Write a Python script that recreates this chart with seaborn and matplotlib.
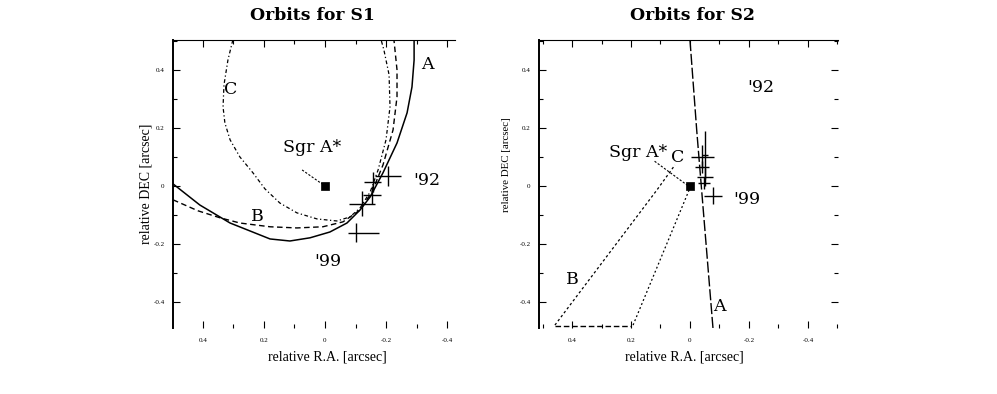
import seaborn as sns
import matplotlib.pyplot as plt
from matplotlib.ticker import MultipleLocator

# ---- S1 orbit curves (R.A., DEC in arcsec) ----
s1_a_x = [0.498, 0.41, 0.311, 0.180, 0.115, 0.049, -0.016, -0.072, -0.115, -0.148, -0.190, -0.236, -0.269, -0.285, -0.292, -0.292]
s1_a_y = [0.007, -0.066, -0.128, -0.183, -0.190, -0.179, -0.159, -0.128, -0.083, -0.038, 0.045, 0.148, 0.252, 0.341, 0.434, 0.503]

s1_b_x = [0.498, 0.416, 0.344, 0.279, 0.180, 0.092, 0.007, -0.059, -0.115, -0.154, -0.190, -0.223, -0.236, -0.236, -0.226]
s1_b_y = [-0.048, -0.086, -0.110, -0.128, -0.141, -0.145, -0.141, -0.124, -0.083, -0.021, 0.072, 0.193, 0.307, 0.400, 0.503]

s1_c_x = [0.302, 0.318, 0.331, 0.334, 0.328, 0.311, 0.279, 0.236, 0.197, 0.148, 0.092, 0.026, -0.039, -0.082, -0.115, -0.148, -0.174, -0.200, -0.213, -0.210, -0.193, -0.184]
s1_c_y = [0.503, 0.434, 0.348, 0.272, 0.217, 0.159, 0.100, 0.045, -0.010, -0.059, -0.093, -0.114, -0.121, -0.107, -0.076, -0.021, 0.055, 0.159, 0.272, 0.383, 0.469, 0.503]

# S1 measured positions with errors
s1_pos_x = [-0.207, -0.157, -0.121, -0.154, -0.102]
s1_pos_y = [0.034, 0.014, -0.062, -0.031, -0.162]
s1_xerr_lo = [0.043, 0.028, 0.043, 0.030, 0.075]
s1_xerr_hi = [0.043, 0.028, 0.043, 0.030, 0.025]
s1_yerr = [0.035, 0.035, 0.043, 0.030, 0.033]

# ---- S2 orbit curves ----
s2_a_x = [0.0, -0.023, -0.078]
s2_a_y = [0.503, 0.19, -0.49]
s2_b_x = [0.458, 0.112, 0.051]
s2_b_y = [-0.48, -0.014, 0.072]
s2_base_x = [0.458, 0.200]
s2_base_y = [-0.482, -0.482]
s2_c_x = [0.193, 0.0]
s2_c_y = [-0.48, -0.007]

# S2 measured positions with errors
s2_pos_x = [-0.041, -0.051, -0.041, -0.051, -0.047, -0.078]
s2_pos_y = [0.100, 0.107, 0.066, 0.031, 0.010, -0.034]
s2_xerr = [0.039, 0.010, 0.025, 0.027, 0.020, 0.030]
s2_yerr = [0.040, 0.083, 0.020, 0.030, 0.020, 0.030]

ticks = [0.4, 0.2, 0.0, -0.2, -0.4]
tick_labels = ['0.4', '0.2', '0', '-0.2', '-0.4']

sns.set_style('white')
plt.rcParams['font.family'] = ['Liberation Serif', 'DejaVu Serif']
plt.rcParams['text.color'] = 'k'
plt.rcParams['xtick.color'] = 'k'
plt.rcParams['ytick.color'] = 'k'

fig = plt.figure(figsize=(9.97, 3.94), dpi=100)
ax1 = fig.add_axes([173 / 997, 66 / 394, 282 / 997, 288 / 394])
ax2 = fig.add_axes([539 / 997, 66 / 394, 299 / 997, 288 / 394])

lab = dict(fontsize=12.5, ha='center', va='center', family='DejaVu Serif')


def style_axis(ax, xlim, right_ticks):
    ax.set_xlim(*xlim)
    ax.set_ylim(-0.49, 0.503)
    ax.set_xticks(ticks)
    ax.set_xticklabels(tick_labels)
    ax.set_yticks(ticks)
    ax.set_yticklabels(tick_labels)
    ax.xaxis.set_minor_locator(MultipleLocator(0.1))
    ax.yaxis.set_minor_locator(MultipleLocator(0.1))
    ax.tick_params(which='both', direction='in', top=True, bottom=True, left=True,
                   right=right_ticks, labelsize=5, color='k', width=0.8)
    ax.tick_params(which='major', length=5)
    ax.tick_params(which='minor', length=3)
    ax.tick_params(axis='x', pad=7)
    ax.tick_params(axis='y', pad=6)
    ax.spines['left'].set_linewidth(1.4)
    ax.spines['top'].set_linewidth(0.8)
    ax.spines['bottom'].set_visible(False)
    ax.spines['right'].set_visible(False)
    for sp in ['left', 'top']:
        ax.spines[sp].set_color('k')
    ax.set_xlabel('')
    ax.set_ylabel('')


# ---- panel S1 ----
sns.lineplot(x=s1_a_x, y=s1_a_y, sort=False, estimator=None, ax=ax1, color='k', lw=1.1)
sns.lineplot(x=s1_b_x, y=s1_b_y, sort=False, estimator=None, ax=ax1, color='k', lw=1.0, linestyle=(0, (4, 2.5)))
sns.lineplot(x=s1_c_x, y=s1_c_y, sort=False, estimator=None, ax=ax1, color='k', lw=0.9, linestyle=(0, (3, 2, 1, 2)))
ax1.errorbar(s1_pos_x, s1_pos_y, xerr=[s1_xerr_lo, s1_xerr_hi], yerr=s1_yerr,
             fmt='none', ecolor='k', elinewidth=1.0, capsize=0)
sns.scatterplot(x=[0], y=[0], marker='s', color='k', s=40, ax=ax1, edgecolor='k')
ax1.plot([0.075, 0.010], [0.055, 0.007], color='k', lw=0.8, linestyle=(0, (2, 1.5)))
ax1.text(0.043, 0.131, 'Sgr A*', **lab)
ax1.text(-0.334, 0.02, "'92", **lab)
ax1.text(-0.01, -0.262, "'99", **lab)
ax1.text(-0.334, 0.417, 'A', **lab)
ax1.text(0.22, -0.107, 'B', **lab)
ax1.text(0.308, 0.334, 'C', **lab)
style_axis(ax1, (0.498, -0.426), False)

# ---- panel S2 ----
sns.lineplot(x=s2_a_x, y=s2_a_y, sort=False, estimator=None, ax=ax2, color='k', lw=1.0, linestyle=(0, (8, 2)))
sns.lineplot(x=s2_b_x, y=s2_b_y, sort=False, estimator=None, ax=ax2, color='k', lw=0.9, linestyle=(0, (2, 2)))
sns.lineplot(x=s2_base_x, y=s2_base_y, sort=False, estimator=None, ax=ax2, color='k', lw=1.0, linestyle=(0, (4, 2)))
sns.lineplot(x=s2_c_x, y=s2_c_y, sort=False, estimator=None, ax=ax2, color='k', lw=0.9, linestyle=(0, (1.5, 2)))
ax2.errorbar(s2_pos_x, s2_pos_y, xerr=s2_xerr, yerr=s2_yerr,
             fmt='none', ecolor='k', elinewidth=1.0, capsize=0)
sns.scatterplot(x=[0], y=[0], marker='s', color='k', s=40, ax=ax2, edgecolor='k')
ax2.plot([0.12, 0.01], [0.085, 0.003], color='k', lw=0.8, linestyle=(0, (2, 1.5)))
ax2.text(0.176, 0.114, 'Sgr A*', **lab)
ax2.text(0.04, 0.097, 'C', **lab)
ax2.text(-0.24, 0.338, "'92", **lab)
ax2.text(-0.193, -0.048, "'99", **lab)
ax2.text(0.40, -0.324, 'B', **lab)
ax2.text(-0.099, -0.417, 'A', **lab)
style_axis(ax2, (0.512, -0.502), True)

# titles and axis labels placed to match the scan
fig.text(312 / 997, 1 - 15 / 394, 'Orbits for S1', fontsize=12.4, fontweight='bold',
         family='DejaVu Serif', ha='center', va='center')
fig.text(692 / 997, 1 - 15 / 394, 'Orbits for S2', fontsize=12.4, fontweight='bold',
         family='DejaVu Serif', ha='center', va='center')
fig.text(327 / 997, 1 - 357 / 394, 'relative R.A. [arcsec]', fontsize=10, ha='center', va='center')
fig.text(684 / 997, 1 - 357 / 394, 'relative R.A. [arcsec]', fontsize=10, ha='center', va='center')
fig.text(146 / 997, 1 - 184 / 394, 'relative DEC [arcsec]', fontsize=10, rotation=90, ha='center', va='center')
fig.text(506 / 997, 1 - 165 / 394, 'relative DEC [arcsec]', fontsize=7.8, rotation=90, ha='center', va='center')

fig.savefig('out.png', dpi=100)
